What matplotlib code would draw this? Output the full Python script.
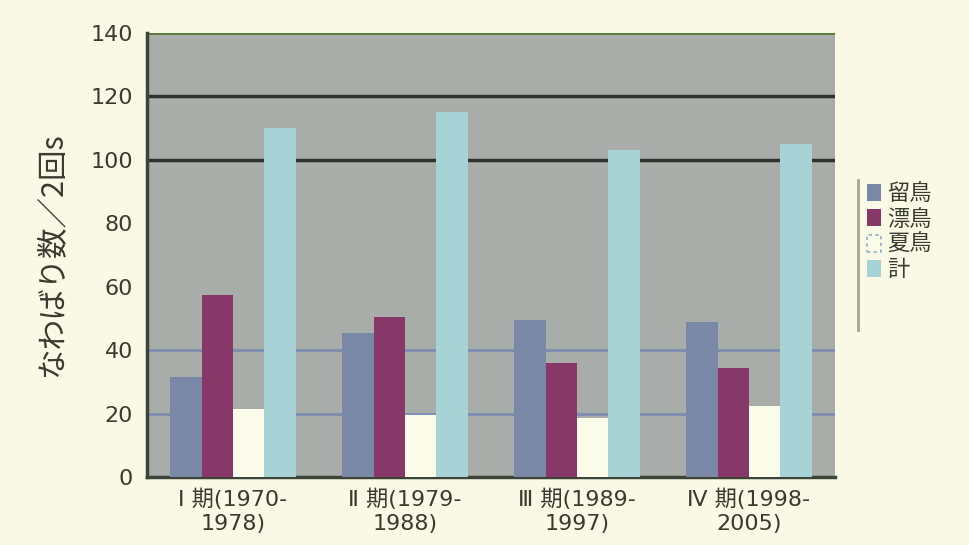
import matplotlib
matplotlib.use("Agg")
import matplotlib.pyplot as plt
import numpy as np

plt.rcParams['font.family'] = ['Noto Sans CJK JP', 'DejaVu Sans']

categories = ["Ⅰ 期(1970-\n1978)", "Ⅱ 期(1979-\n1988)", "Ⅲ 期(1989-\n1997)", "Ⅳ 期(1998-\n2005)"]
series_names = ["留鳥", "漂鳥", "夏鳥", "計"]
ryucho = [31.5, 45.5, 49.5, 49]
hyocho = [57.5, 50.5, 36, 34.5]
natsudori = [21.5, 19.5, 18.5, 22.5]
total = [110, 115, 103, 105]
yticks = [0, 20, 40, 60, 80, 100, 120, 140]

colors = ["#7a88a8", "#883868", "#fbfbea", "#a8d3d6"]
bg = "#f9f9e6"
plot_bg = "#a9adaa"
txt = "#3a3a30"
num_fam = ['DejaVu Sans', 'Noto Sans CJK JP']

fig = plt.figure(figsize=(9.69, 5.45), dpi=100, facecolor=bg)
ax = fig.add_axes([147/969, 1-477/545, (835-147)/969, (477-33)/545])
ax.set_facecolor(plot_bg)

x = np.arange(len(categories))
w = 0.183
data = [ryucho, hyocho, natsudori, total]
for i, (vals, c, name) in enumerate(zip(data, colors, series_names)):
    ax.bar(x + (i - 1.5) * w, vals, width=w, color=c, label=name, zorder=3,
           edgecolor="none")

ax.set_xlim(-0.5, 3.5)
ax.set_ylim(0, 140)
ax.set_yticks(yticks)
ax.set_yticklabels([str(v) for v in yticks], fontsize=16, color=txt, family=num_fam)
ax.set_xticks(x)
ax.set_xticklabels(categories, fontsize=16, color=txt, linespacing=1.3, family=num_fam)
ax.tick_params(axis="y", length=0, pad=10)
ax.tick_params(axis="x", length=0, pad=8)

for v in [20, 40]:
    ax.axhline(v, color="#7f8db0", lw=2, zorder=2)
for v in [100, 120]:
    ax.axhline(v, color="#2e332c", lw=2.5, zorder=2)
ax.axhline(140, color="#5a7a3a", lw=2, zorder=2)

for s in ["left", "bottom"]:
    ax.spines[s].set_color("#3c4438")
    ax.spines[s].set_linewidth(2.5)
for s in ["top", "right"]:
    ax.spines[s].set_visible(False)

fig.text(52/969, 1-255/545, "なわばり数／2回s", fontsize=22, color=txt,
         rotation=90, ha="center", va="center")

leg = ax.legend(loc="upper left", bbox_to_anchor=(863/969, 1-178/545),
                bbox_transform=fig.transFigure, frameon=True, fontsize=16,
                handlelength=0.6, handleheight=0.8, handletextpad=0.3,
                labelspacing=0.1, borderpad=0.2, borderaxespad=0)
leg.get_frame().set_facecolor(bg)
leg.get_frame().set_edgecolor(bg)
for t in leg.get_texts():
    t.set_color(txt)
handles = leg.legend_handles
handles[2].set_edgecolor("#8fb0c8")
handles[2].set_linestyle((0, (2, 2)))
handles[2].set_linewidth(1.2)
fig.add_artist(plt.Line2D([858/969, 858/969], [1-180/545, 1-330/545],
                          color="#a0a890", lw=2, transform=fig.transFigure))

fig.savefig("out.png", dpi=100, facecolor=bg)
